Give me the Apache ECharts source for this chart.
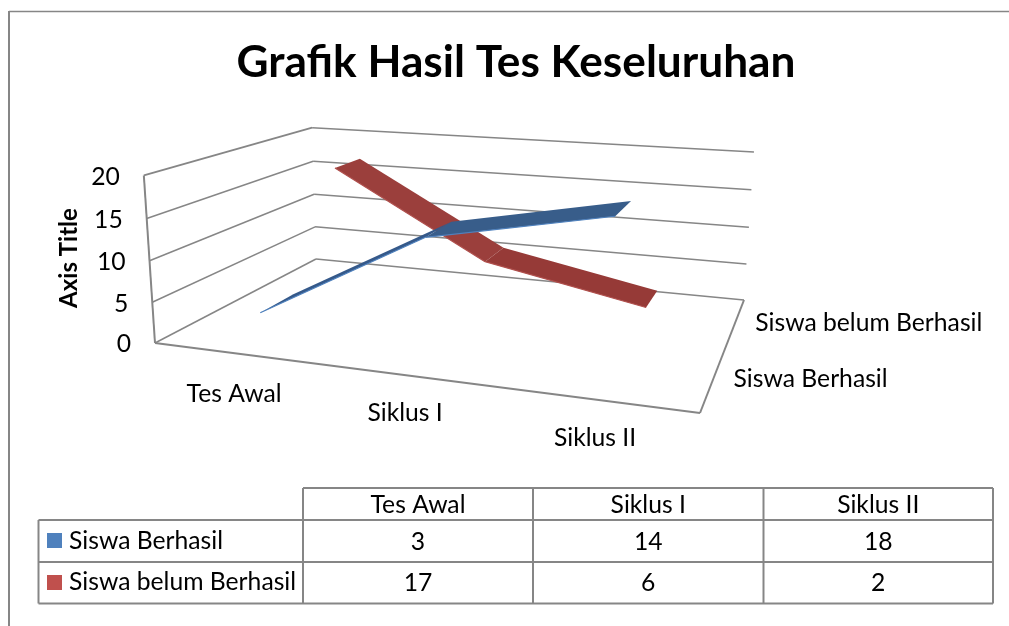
<!DOCTYPE html>
<html><head><meta charset="utf-8">
<style>html,body{margin:0;padding:0;background:#fff}#c{width:1009px;height:626px}</style>
<script src="https://cdn.jsdelivr.net/npm/echarts@6/dist/echarts.min.js"></script>
</head><body><div id="c"></div>
<script>
var chartTitle = 'Grafik Hasil Tes Keseluruhan';
var axisTitle = 'Axis Title';
var categories = ['Tes Awal', 'Siklus I', 'Siklus II'];
var seriesNames = ['Siswa Berhasil', 'Siswa belum Berhasil'];
var siswaBerhasil = [3, 14, 18];
var siswaBelum = [17, 6, 2];
var yTicks = [0, 5, 10, 15, 20];

var FONT = 'Lato, Carlito, "Open Sans", sans-serif';
var GRID = '#868686';
/* Box corners on screen: the perspective camera for the 3D box */
var F0L=[155,343],F0R=[700,413],B0R=[744,300],B0L=[316,259],F1L=[144,176],B1L=[312,128],B1R=[754,151];
var dx1=F0R[0]-B0R[0],dx2=B0L[0]-B0R[0],sx=F0L[0]-F0R[0]+B0R[0]-B0L[0];
var dy1=F0R[1]-B0R[1],dy2=B0L[1]-B0R[1],sy=F0L[1]-F0R[1]+B0R[1]-B0L[1];
var den=dx1*dy2-dx2*dy1, G=(sx*dy2-dx2*sy)/den, H=(dx1*sy-sx*dy1)/den;
var A=F0R[0]-F0L[0]+G*F0R[0],B=B0L[0]-F0L[0]+H*B0L[0],C=F0L[0],D=F0R[1]-F0L[1]+G*F0R[1],E=B0L[1]-F0L[1]+H*B0L[1],Ff=F0L[1];
function solve3(M,v){
  var m=M.map(function(r,i){return r.concat([v[i]]);});
  for(var i=0;i<3;i++){var p=i;for(var k=i+1;k<3;k++)if(Math.abs(m[k][i])>Math.abs(m[p][i]))p=k;
    var t=m[i];m[i]=m[p];m[p]=t;
    for(var k2=0;k2<3;k2++){if(k2===i)continue;var f=m[k2][i]/m[i][i];for(var j=i;j<4;j++)m[k2][j]-=f*m[i][j];}}
  return [m[0][3]/m[0][0],m[1][3]/m[1][1],m[2][3]/m[2][2]];
}
var topFit=[[0,0,F1L],[0,1,B1L],[1,1,B1R]], N=[[0,0,0],[0,0,0],[0,0,0]], R=[0,0,0];
topFit.forEach(function(q){
  var hx=A*q[0]+B*q[1]+C,hy=D*q[0]+E*q[1]+Ff,hw=G*q[0]+H*q[1]+1,p=q[2];
  [[[1,0,-p[0]],p[0]*hw-hx],[[0,1,-p[1]],p[1]*hw-hy]].forEach(function(eq){
    for(var i=0;i<3;i++){R[i]+=eq[0][i]*eq[1];for(var j=0;j<3;j++)N[i][j]+=eq[0][i]*eq[0][j];}
  });
});
var Cz=solve3(N,R);
function project(x,d,z){
  var w=G*x+H*d+1+Cz[2]*z;
  return [(A*x+B*d+C+Cz[0]*z)/w,(D*x+E*d+Ff+Cz[1]*z)/w];
}
/* hidden axes supply the value scale; pixel → box fraction */
function frac(api,params,cat,val){
  var p=api.coord([cat,val]),r=params.coordSys;
  return [(p[0]-r.x)/r.width,(r.y+r.height-p[1])/r.height];
}
function line(a,b,w,col){return {type:'line',silent:true,shape:{x1:a[0],y1:a[1],x2:b[0],y2:b[1]},style:{stroke:col||GRID,lineWidth:w||1.5}};}
function label(t,x,y,align,size,weight,rot){
  var e={type:'text',silent:true,x:x,y:y,style:{text:t,x:0,y:0,align:align||'center',verticalAlign:'middle',fill:'#000',font:(weight||'normal')+' '+(size||24.7)+'px '+FONT}};
  if(rot)e.rotation=rot;return e;
}
function gridRender(params,api){
  var v=api.value(0), z=frac(api,params,0,v)[1];
  var f=project(0,0,z),bl=project(0,1,z),br=project(1,1,z);
  var kids=[line(f,bl,v===20?1.9:1.5),line(bl,br,1.5),label(String(v),f[0]-24,f[1]+1.5,'right')];
  return {type:'group',children:kids};
}
function frameRender(params,api){
  return {type:'group',children:[
    line(project(0,0,0),project(0,0,1),2),
    line(project(0,0,0),project(1,0,0),2),
    line(project(1,0,0),project(1,1,0),2)
  ]};
}
var catOffset=[[0,41],[0,38],[-1,38]];
function catRender(params,api){
  var i=params.dataIndex,p=project(frac(api,params,i,0)[0],0,0);
  return label(categories[i],p[0]+catOffset[i][0],p[1]+catOffset[i][1]);
}
function serRender(params,api){
  var i=params.dataIndex,d=[0.25,0.75][i],p=project(1,d,0);
  return label(seriesNames[i],p[0]+20,p[1]+([1,1][i]),'left');
}
function ribbon(d1,d2,fills,edge){
  return function(params,api){
    var i=params.dataIndex;
    if(i>=categories.length-1)return null;
    var a=frac(api,params,i,api.value(1)),b=frac(api,params,i+1,params.context.vals[i+1]);
    var a1=project(a[0],d1,a[1]),a2=project(a[0],d2,a[1]),b1=project(b[0],d1,b[1]),b2=project(b[0],d2,b[1]);
    return {type:'group',children:[
      {type:'polygon',silent:true,shape:{points:[a1,b1,b2,a2]},style:{fill:fills[i]}},
      line(a1,b1,1.2,edge)
    ]};
  };
}
function rib(name,vals,d1,d2,fills,edge){
  var rend=ribbon(d1,d2,fills,edge);
  return {type:'custom',name:name,data:vals.map(function(v,i){return [i,v];}),z:5,silent:true,
    renderItem:function(p,api){p.context.vals=vals;return rend(p,api);}};
}
/* data table */
var T={x0:38.5,x1:303,cols:[303,533,763.5,993],y:[488,520,562,603.5]};
var tbl=[],L=2;
function seg(x1,y1,x2,y2){tbl.push({type:'line',silent:true,shape:{x1:x1,y1:y1,x2:x2,y2:y2},style:{stroke:GRID,lineWidth:L}});}
seg(T.cols[0],T.y[0],T.cols[3],T.y[0]);
seg(T.x0,T.y[1],T.cols[3],T.y[1]);seg(T.x0,T.y[2],T.cols[3],T.y[2]);seg(T.x0,T.y[3],T.cols[3],T.y[3]);
seg(T.x0,T.y[1],T.x0,T.y[3]);
T.cols.forEach(function(x){seg(x,T.y[0],x,T.y[3]);});
function gtext(t,x,y,align,size,weight,rot){
  var e={type:'text',silent:true,x:x,y:y,style:{text:t,align:align,verticalAlign:'middle',fill:'#000',font:(weight||'normal')+' '+size+'px '+FONT}};
  if(rot)e.rotation=rot;return e;
}
categories.forEach(function(c,i){
  var cx=(T.cols[i]+T.cols[i+1])/2;
  tbl.push(gtext(c,cx,505,'center',24.7));
  tbl.push(gtext(String(siswaBerhasil[i]),cx,542,'center',24.7));
  tbl.push(gtext(String(siswaBelum[i]),cx,583,'center',24.7));
});
[['#4F81BD',533,541],['#C0504D',575,582]].forEach(function(s,i){
  tbl.push({type:'rect',silent:true,shape:{x:47,y:s[1],width:15,height:15},style:{fill:s[0]}});
  tbl.push(gtext(seriesNames[i],69,s[2],'left',24.7));
});
/* outer chart border */
tbl.push({type:'line',silent:true,shape:{x1:9,y1:11.5,x2:1009,y2:11.5},style:{stroke:GRID,lineWidth:1.3}});
tbl.push({type:'line',silent:true,shape:{x1:9,y1:11,x2:9,y2:626},style:{stroke:GRID,lineWidth:2}});
tbl.push(gtext(axisTitle,69,258,'center',24,'bold',Math.PI/2));

var chart=echarts.init(document.getElementById('c'),null,{renderer:'canvas'});
chart.setOption({
  animation:false,
  backgroundColor:'#fff',
  title:{text:chartTitle,left:511,top:58,textAlign:'center',textVerticalAlign:'middle',textStyle:{fontFamily:FONT,fontWeight:'bold',fontSize:44.2,color:'#000'}},
  grid:{left:155,top:176,width:545,height:167},
  xAxis:{type:'category',data:categories,show:false},
  yAxis:{type:'value',min:0,max:20,interval:5,show:false},
  graphic:{elements:tbl},
  series:[
    {type:'custom',name:'grid',data:yTicks.map(function(v){return [v];}),renderItem:gridRender,z:2,silent:true,encode:{y:0}},
    {type:'custom',name:'frame',data:[[0]],renderItem:frameRender,z:3,silent:true},
    {type:'custom',name:'catLabels',data:categories.map(function(c,i){return [i];}),renderItem:catRender,z:3,silent:true},
    {type:'custom',name:'serLabels',data:seriesNames.map(function(c,i){return [i];}),renderItem:serRender,z:3,silent:true},
    rib(seriesNames[1],siswaBelum,0.655,0.845,['#9B3F3C','#963A37'],'#B0504D'),
    rib(seriesNames[0],siswaBerhasil,0.15,0.35,['#35598A','#385D8A'],'#4F81BD')
  ]
});
</script></body></html>
